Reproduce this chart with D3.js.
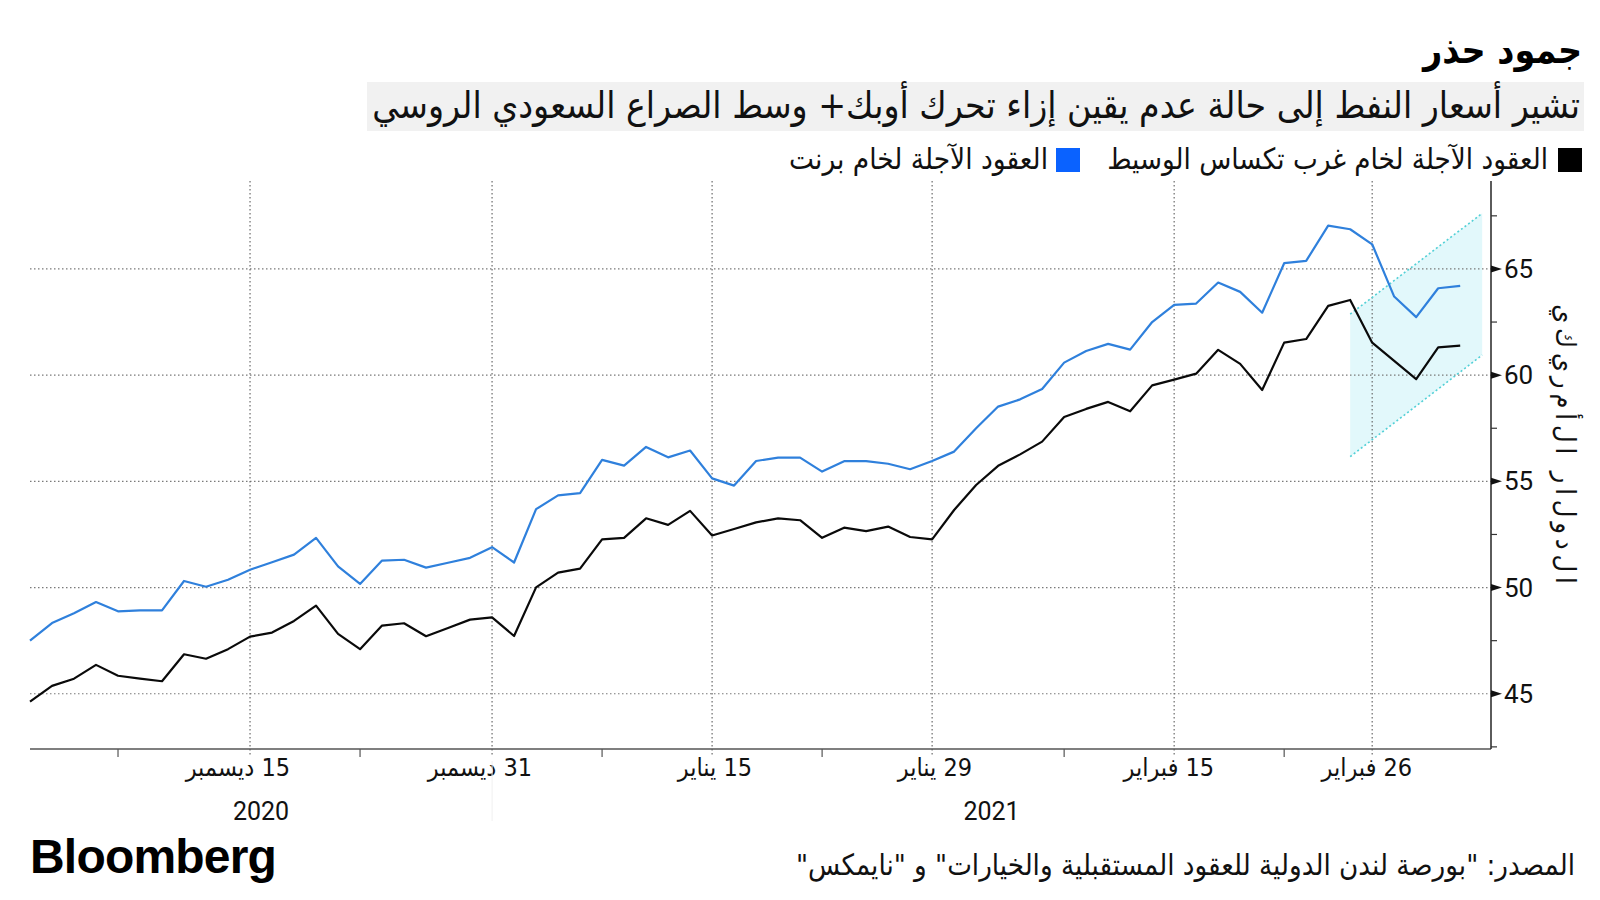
<!DOCTYPE html>
<html><head><meta charset="utf-8">
<script src="https://cdn.jsdelivr.net/npm/d3@7"></script>
<style>
html,body{margin:0;padding:0;background:#fff;}
svg{display:block;}
.ar{font-family:"DejaVu Sans Condensed","DejaVu Sans",sans-serif;}
.num{font-family:Roboto,"Liberation Sans","DejaVu Sans Condensed",sans-serif;}
</style>
</head><body>
<svg id="chart" width="1600" height="900"></svg>
<script>
// ---- data ----
const dates = [
 "2020-12-01","2020-12-02","2020-12-03","2020-12-04","2020-12-07","2020-12-08","2020-12-09","2020-12-10","2020-12-11",
 "2020-12-14","2020-12-15","2020-12-16","2020-12-17","2020-12-18","2020-12-21","2020-12-22","2020-12-23","2020-12-24",
 "2020-12-28","2020-12-29","2020-12-30","2020-12-31",
 "2021-01-04","2021-01-05","2021-01-06","2021-01-07","2021-01-08","2021-01-11","2021-01-12","2021-01-13","2021-01-14","2021-01-15",
 "2021-01-18","2021-01-19","2021-01-20","2021-01-21","2021-01-22","2021-01-25","2021-01-26","2021-01-27","2021-01-28","2021-01-29",
 "2021-02-01","2021-02-02","2021-02-03","2021-02-04","2021-02-05","2021-02-08","2021-02-09","2021-02-10","2021-02-11","2021-02-12",
 "2021-02-15","2021-02-16","2021-02-17","2021-02-18","2021-02-19","2021-02-22","2021-02-23","2021-02-24","2021-02-25","2021-02-26",
 "2021-03-01","2021-03-02","2021-03-03","2021-03-04"
];
const brent = [
 47.50,48.33,48.79,49.32,48.88,48.93,48.93,50.31,50.04,
 50.37,50.84,51.19,51.55,52.34,51.00,50.17,51.27,51.31,
 50.94,51.17,51.40,51.90,
 51.18,53.69,54.34,54.45,56.01,55.74,56.62,56.13,56.45,55.14,
 54.80,55.96,56.12,56.12,55.46,55.95,55.95,55.83,55.57,55.96,
 56.40,57.50,58.52,58.86,59.35,60.59,61.14,61.47,61.20,62.50,
 63.31,63.37,64.36,63.92,62.94,65.27,65.38,67.04,66.87,66.16,
 63.70,62.73,64.09,64.20
];
const wti = [
 44.63,45.37,45.71,46.36,45.85,45.71,45.59,46.86,46.65,
 47.10,47.69,47.88,48.43,49.15,47.82,47.10,48.21,48.32,
 47.71,48.10,48.49,48.60,
 47.72,50.01,50.70,50.89,52.27,52.34,53.26,52.95,53.61,52.45,
 52.76,53.07,53.26,53.17,52.34,52.82,52.66,52.87,52.38,52.27,
 53.65,54.83,55.73,56.27,56.87,58.03,58.41,58.74,58.30,59.52,
 59.79,60.07,61.19,60.53,59.30,61.53,61.70,63.26,63.54,61.53,
 60.67,59.81,61.31,61.39
];
const tickDates  = ["2020-12-15","2020-12-31","2021-01-15","2021-01-29","2021-02-15","2021-02-26"];
const tickLabels = ["15 ديسمبر","31 ديسمبر","15 يناير","29 يناير","15 فبراير","26 فبراير"];
const minorTickDates = ["2020-12-07","2020-12-22","2021-01-08","2021-01-22","2021-02-08","2021-02-22"];
const yearLabels = ["2020","2021"];
const yMajorTicks = [45,50,55,60,65];
const yMinorTicks = [42.5,47.5,52.5,57.5,62.5,67.5];
// channel band (start/end trading-day index, upper and lower bound values)
const bandIdx = [60, 66];
const bandUpper = [62.87, 67.62];
const bandLower = [56.16, 60.95];

const title = "جمود حذر";
const subtitle = "تشير أسعار النفط إلى حالة عدم يقين إزاء تحرك أوبك+ وسط الصراع السعودي الروسي";
const legendNames = ["العقود الآجلة لخام غرب تكساس الوسيط","العقود الآجلة لخام برنت"];
const yTitle = "الدولار الأمريكي";
const source = "المصدر: \"بورصة لندن الدولية للعقود المستقبلية والخيارات\" و \"نايمكس\"";

// ---- layout ----
const L = 30, R = 1491, T = 181, B = 749;
const svg = d3.select("#chart");
const x = d3.scaleLinear().domain([0, 66.4]).range([L, R]);
const y = d3.scaleLinear().domain([42.4, 69.14]).range([B, T]);
const idx = d => dates.indexOf(d);

function fit(sel, target, lo, hi){
  const n = sel.node(); const w = n.getComputedTextLength();
  const fs = parseFloat(sel.attr("font-size"));
  let f = fs*target/w;
  if (lo !== undefined) f = Math.max(lo, Math.min(hi, f));
  sel.attr("font-size", f.toFixed(2));
}

// title
const t1 = svg.append("text").attr("class","ar").attr("x",1582).attr("y",63)
  .attr("direction","rtl").attr("text-anchor","start").attr("font-size",32).attr("font-weight","bold")
  .attr("fill","#000").text(title);
fit(t1, 159);

// subtitle with background
svg.append("rect").attr("x",367).attr("y",82).attr("width",1217).attr("height",49).attr("fill","#f1f1f1");
const t2 = svg.append("text").attr("class","ar").attr("x",1580).attr("y",118)
  .attr("direction","rtl").attr("text-anchor","start").attr("font-size",30).attr("fill","#111").text(subtitle);
fit(t2, 1208);

// legend
const legendColors = ["#000000","#0a62ff"];
const legendSq = [1558, 1056];
const legendTxtX = [1548, 1048];
const legendW = [441, 259];
legendNames.forEach((n,i)=>{
  svg.append("rect").attr("x",legendSq[i]).attr("y",148).attr("width",24).attr("height",24).attr("fill",legendColors[i]);
  const tt = svg.append("text").attr("class","ar").attr("x",legendTxtX[i]).attr("y",169)
    .attr("direction","rtl").attr("text-anchor","start").attr("font-size",26).attr("fill","#111").text(n);
  fit(tt, legendW[i]);
});

// band fill
const bandPts = [[bandIdx[0],bandUpper[0]],[bandIdx[1],bandUpper[1]],[bandIdx[1],bandLower[1]],[bandIdx[0],bandLower[0]]];
svg.append("polygon").attr("points", bandPts.map(p=>[x(p[0]),y(p[1])].join(",")).join(" "))
  .attr("fill","#e2f8fb");

// horizontal gridlines
svg.append("g").selectAll("line").data(yMajorTicks).join("line")
  .attr("x1",L).attr("x2",R).attr("y1",d=>y(d)).attr("y2",d=>y(d))
  .attr("stroke","#7a7a7a").attr("stroke-width",1.2).attr("stroke-dasharray","1.5,2.5");
// vertical gridlines
svg.append("g").selectAll("line").data(tickDates).join("line")
  .attr("x1",d=>x(idx(d))).attr("x2",d=>x(idx(d))).attr("y1",T).attr("y2",B+8)
  .attr("stroke","#6a6a6a").attr("stroke-width",1.2).attr("stroke-dasharray","1.5,2.5");

// band edges
[bandUpper, bandLower].forEach(arr=>{
  svg.append("line").attr("x1",x(bandIdx[0])).attr("y1",y(arr[0])).attr("x2",x(bandIdx[1])).attr("y2",y(arr[1]))
    .attr("stroke","#52d0d6").attr("stroke-width",1.6).attr("stroke-dasharray","2,2.5");
});

// lines
const line = d3.line().x((d,i)=>x(i)).y(d=>y(d));
svg.append("path").datum(brent).attr("d",line).attr("fill","none").attr("stroke","#2f80dc").attr("stroke-width",2.2).attr("stroke-linejoin","round");
svg.append("path").datum(wti).attr("d",line).attr("fill","none").attr("stroke","#0a0a0a").attr("stroke-width",2.2).attr("stroke-linejoin","round");

// x axis
svg.append("line").attr("x1",L).attr("x2",R).attr("y1",B).attr("y2",B).attr("stroke","#555").attr("stroke-width",1.6);
svg.append("g").selectAll("line").data(minorTickDates).join("line")
  .attr("x1",d=>x(idx(d))).attr("x2",d=>x(idx(d))).attr("y1",B).attr("y2",B+8)
  .attr("stroke","#555").attr("stroke-width",1.2);
svg.append("g").selectAll("text").data(tickDates).join("text")
  .attr("class","ar").attr("x",d=>x(idx(d))+40).attr("y",B+27)
  .attr("direction","rtl").attr("text-anchor","start").attr("font-size",25).attr("fill","#111")
  .text((d,i)=>tickLabels[i]);

// year separator & year labels
const sepX = x(idx("2020-12-31"));
svg.append("line").attr("x1",sepX).attr("x2",sepX).attr("y1",B+12).attr("y2",B+72).attr("stroke","#f0f0f0").attr("stroke-width",1);
const yearCenters = [(L+sepX)/2, (sepX+R)/2];
svg.append("g").selectAll("text").data(yearLabels).join("text")
  .attr("class","num").attr("x",(d,i)=>yearCenters[i]).attr("y",B+71).attr("text-anchor","middle")
  .attr("font-size",25).attr("fill","#111").text(d=>d);

// y axis
svg.append("line").attr("x1",R).attr("x2",R).attr("y1",T).attr("y2",B).attr("stroke","#333").attr("stroke-width",1.6);
svg.append("g").selectAll("path").data(yMajorTicks).join("path")
  .attr("d",d=>`M${R},${y(d)-3.5}L${R+11},${y(d)}L${R},${y(d)+3.5}Z`).attr("fill","#111");
svg.append("g").selectAll("line").data(yMinorTicks).join("line")
  .attr("x1",R).attr("x2",R+6).attr("y1",d=>y(d)).attr("y2",d=>y(d)).attr("stroke","#333").attr("stroke-width",1.2);
svg.append("g").selectAll("text").data(yMajorTicks).join("text")
  .attr("class","num").attr("x",R+13).attr("y",d=>y(d)+9).attr("font-size",26).attr("fill","#111").text(d=>d);

// y title: letters drawn apart (isolated forms), as in the original
const yt = svg.append("text").attr("class","ar").attr("transform","translate(1556,444) rotate(90)")
  .attr("text-anchor","middle").attr("font-size",24).attr("fill","#111")
  .text(Array.from(yTitle).join("\u2009"));
fit(yt, 280, 21, 27);

// footer
svg.append("text").attr("x",30).attr("y",873).attr("font-family","'Liberation Sans',Arial,sans-serif")
  .attr("font-weight","bold").attr("font-size",48).attr("letter-spacing",-0.8).attr("fill","#000").text("Bloomberg");
const src = svg.append("text").attr("class","ar").attr("x",1575).attr("y",875)
  .attr("direction","rtl").attr("text-anchor","start").attr("font-size",24).attr("fill","#111").text(source);
fit(src, 779);
</script>
</body></html>
